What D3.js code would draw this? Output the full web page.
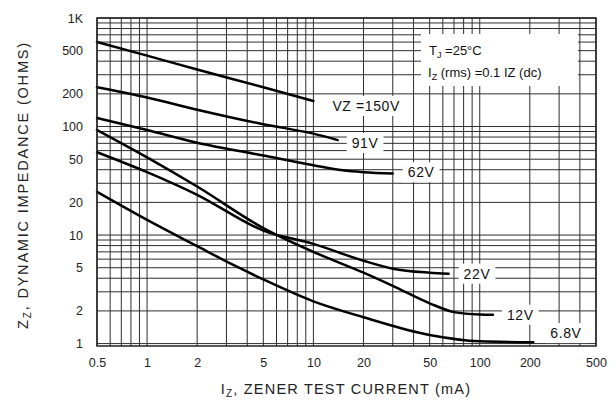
<!DOCTYPE html>
<html><head><meta charset="utf-8">
<script src="https://cdn.jsdelivr.net/npm/d3@7"></script>
<style>body{margin:0;background:#fff}svg{display:block;font-family:"Liberation Sans",Arial,Helvetica,sans-serif}</style>
</head><body><svg id="c" width="616" height="403"></svg>
<script>
// ---- data ----
const seriesLabels = ["VZ =150V", "91V", "62V", "22V", "12V", "6.8V"];
const current150 = [0.5, 1, 2, 5, 10];
const impedance150 = [600, 450, 335, 230, 172];
const current91 = [0.5, 1, 2, 5, 10, 14];
const impedance91 = [230, 185, 143, 105, 86, 75];
const current62 = [0.5, 1, 2, 5, 10, 15, 20, 30];
const impedance62 = [120, 93, 71, 54, 44, 39.5, 38, 37];
const current22 = [0.5, 1, 2, 5, 10, 20, 30, 50, 65];
const impedance22 = [58, 38, 23.5, 11.0, 8.3, 5.8, 4.9, 4.5, 4.4];
const current12 = [0.5, 1, 2, 5, 10, 20, 30, 50, 70, 100, 120];
const impedance12 = [93, 52, 28, 11.6, 7.0, 4.5, 3.4, 2.35, 1.95, 1.85, 1.84];
const current68 = [0.5, 1, 2, 3.3, 5, 10, 20, 50, 100, 210];
const impedance68 = [25, 13.8, 7.9, 5.3, 3.9, 2.45, 1.75, 1.2, 1.05, 1.03];
const xTickValues = [0.5, 1, 2, 5, 10, 20, 50, 100, 200, 500];
const xTickLabels = ["0.5", "1", "2", "5", "10", "20", "50", "100", "200", "500"];
const yTickValues = [1, 2, 5, 10, 20, 50, 100, 200, 500, 1000];
const yTickLabels = ["1", "2", "5", "10", "20", "50", "100", "200", "500", "1K"];

// ---- layout / style ----
const W = 616, H = 403;
const plot = {left: 97, right: 596, top: 18, bottom: 346};
const labelDx = [19, 14, 15, 15, 14, 17];
const labelDy = [5, 3, -1, 0, 0, -9];

const svg = d3.select("#c");
svg.append("rect").attr("width", W).attr("height", H).attr("fill", "#fff");

const x = d3.scaleLog().domain([0.5, 500]).range([plot.left, plot.right]);
const y = d3.scaleLog().domain([0.95, 1000]).range([plot.bottom, plot.top]);

const series = [
  [current150, impedance150], [current91, impedance91], [current62, impedance62],
  [current22, impedance22], [current12, impedance12], [current68, impedance68]
].map(([c, z], i) => ({name: seriesLabels[i], pts: c.map((v, j) => [v, z[j]])}));

// grid
const g = svg.append("g");
const xGrid = x.ticks(40).filter(v => v >= 0.5 && v <= 500);
const yGrid = y.ticks(40).filter(v => v >= 1 && v <= 1000);
g.selectAll(".vg").data(xGrid).join("line")
  .attr("x1", d => x(d)).attr("x2", d => x(d))
  .attr("y1", plot.top).attr("y2", plot.bottom)
  .attr("stroke", "#2e2e2e").attr("stroke-width", 1);
g.selectAll(".hg").data(yGrid).join("line")
  .attr("y1", d => y(d)).attr("y2", d => y(d))
  .attr("x1", plot.left).attr("x2", plot.right)
  .attr("stroke", "#2e2e2e").attr("stroke-width", 1);

// annotation box (covers grid)
svg.append("rect").attr("x", 421).attr("y", 34).attr("width", 157).attr("height", 52).attr("fill", "#fff");
const t1 = svg.append("text").attr("x", 429).attr("y", 55).attr("font-size", 13).attr("fill", "#111");
t1.append("tspan").text("T");
t1.append("tspan").attr("font-size", 9).attr("dy", 3).text("J");
t1.append("tspan").attr("dy", -3).text(" =25°C");
const t2 = svg.append("text").attr("x", 428).attr("y", 77).attr("font-size", 13).attr("fill", "#111");
t2.append("tspan").text("I");
t2.append("tspan").attr("font-size", 9).attr("dy", 3).text("Z");
t2.append("tspan").attr("dy", -3).text(" (rms) =0.1 IZ (dc)");

// curves
const line = d3.line().x(d => x(d[0])).y(d => y(d[1])).curve(d3.curveMonotoneX);
svg.append("g").selectAll("path").data(series).join("path")
  .attr("d", d => line(d.pts))
  .attr("fill", "none").attr("stroke", "#000").attr("stroke-width", 2.5)
  .attr("stroke-linecap", "round");

// curve labels with white backgrounds
series.forEach((s, i) => {
  const last = s.pts[s.pts.length - 1];
  const lx = x(last[0]) + labelDx[i], ly = y(last[1]) + labelDy[i];
  const grp = svg.append("g");
  const txt = grp.append("text").attr("x", lx).attr("y", ly).attr("dy", "0.35em")
    .attr("font-size", 14).attr("letter-spacing", 0.6).attr("fill", "#111").text(s.name);
  const bb = txt.node().getBBox();
  grp.insert("rect", "text").attr("x", bb.x - 5).attr("y", bb.y - 2)
    .attr("width", bb.width + 10).attr("height", bb.height + 4).attr("fill", "#fff");
});

// frame
svg.append("rect").attr("x", plot.left).attr("y", plot.top)
  .attr("width", plot.right - plot.left).attr("height", plot.bottom - plot.top)
  .attr("fill", "none").attr("stroke", "#222").attr("stroke-width", 1.5);

// axes (labels only)
const xAxis = svg.append("g").attr("transform", `translate(0,${plot.bottom + 8})`)
  .call(d3.axisBottom(x).tickValues(xTickValues).tickFormat((d, i) => xTickLabels[i]).tickSize(0).tickPadding(4));
const yAxis = svg.append("g").attr("transform", `translate(${plot.left - 14},0)`)
  .call(d3.axisLeft(y).tickValues(yTickValues).tickFormat((d, i) => yTickLabels[i]).tickSize(0).tickPadding(0));
[xAxis, yAxis].forEach(a => {
  a.select(".domain").remove();
  a.selectAll("text").attr("font-size", 12.5).attr("fill", "#222")
    .attr("font-family", '"Liberation Sans",Arial,sans-serif');
});

// axis titles
const xt = svg.append("text").attr("x", 346).attr("y", 394).attr("text-anchor", "middle")
  .attr("font-size", 14.5).attr("letter-spacing", 1.2).attr("fill", "#222");
xt.append("tspan").text("I");
xt.append("tspan").attr("font-size", 10).attr("dy", 3).text("Z");
xt.append("tspan").attr("dy", -3).text(", ZENER TEST CURRENT (mA)");

const yt = svg.append("text").attr("transform", "translate(28,185) rotate(-90)")
  .attr("text-anchor", "middle").attr("font-size", 14.5).attr("letter-spacing", 1.8).attr("fill", "#222");
yt.append("tspan").text("Z");
yt.append("tspan").attr("font-size", 10).attr("dy", 3).text("Z");
yt.append("tspan").attr("dy", -3).text(", DYNAMIC IMPEDANCE (OHMS)");
</script>
</body></html>
